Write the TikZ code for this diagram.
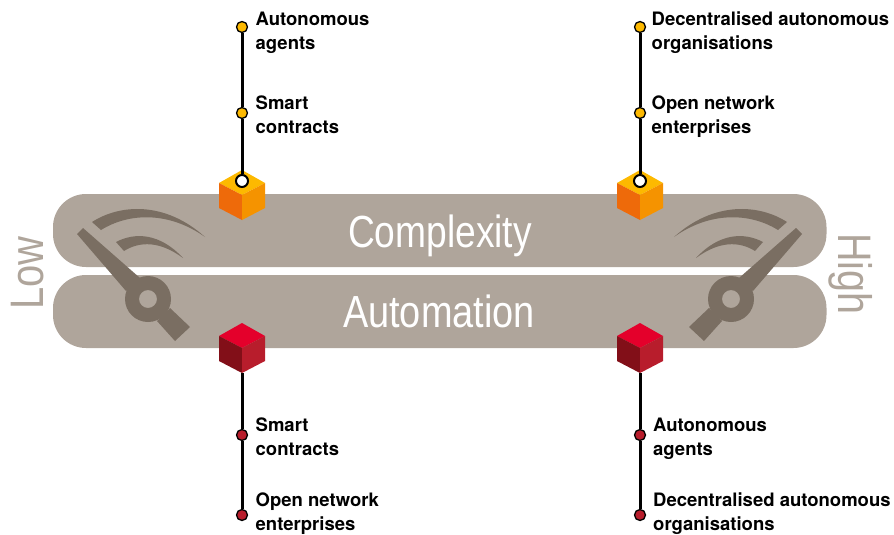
\documentclass[tikz,border=0pt]{standalone}
\usepackage{fontspec}
\usepackage{graphicx}
\setmainfont{TeX Gyre Heros}
\newfontfamily\thinfont{Liberation Sans}
\definecolor{barc}{HTML}{AFA59B}
\definecolor{gaugec}{HTML}{7A6E62}
\definecolor{ytop}{HTML}{FDB900}
\definecolor{yleft}{HTML}{EE6A0A}
\definecolor{yright}{HTML}{F59300}
\definecolor{rtop}{HTML}{E4002B}
\definecolor{rleft}{HTML}{820F18}
\definecolor{rright}{HTML}{B81D2C}
\tikzset{
  band/.style={fill=barc,draw=none,rounded corners=33pt},
  stem/.style={draw=black,line width=3pt},
  ydot/.style={circle,draw=black,line width=1.3pt,fill=ytop,minimum size=11pt,inner sep=0pt},
  rdot/.style={circle,draw=black,line width=1.3pt,fill=rright,minimum size=11pt,inner sep=0pt},
  wdot/.style={circle,draw=black,line width=2pt,fill=white,minimum size=12pt,inner sep=0pt},
  lbl/.style={anchor=north west,align=left,inner sep=0pt,font=\fontsize{18.5}{24}\selectfont\bfseries,text=black},
  bigt/.style={text=white,inner sep=0pt,anchor=base,font=\fontsize{45}{45}\selectfont\thinfont},
  sidet/.style={text=barc,inner sep=0pt,anchor=base,font=\fontsize{47}{47}\selectfont\thinfont},
}
\newcommand{\drawcube}[7]{% x, ytop, top, left, right colours
  \fill[#4] (#1,#2) -- (#1+23,#2+13) -- (#1,#2+25) -- (#1-23,#2+13) -- cycle;
  \fill[#5] (#1-23,#2+13) -- (#1,#2+25) -- (#1,#2+50) -- (#1-23,#2+38) -- cycle;
  \fill[#6] (#1+23,#2+13) -- (#1,#2+25) -- (#1,#2+50) -- (#1+23,#2+38) -- cycle;
}
\newcommand{\drawgauge}{%
  \fill[gaugec,even odd rule] (148,299) circle (23) (148,299) circle (9);
  \fill[gaugec] (83,228) -- (77,234) -- (126,291) -- (140,278) -- cycle;
  \fill[gaugec] (170,308) -- (190,327) -- (175,341) -- (157,321) -- cycle;
  \fill[gaugec] (92,222) .. controls (120,204) and (165,201) .. (205,237)
     .. controls (170,212) and (130,212) .. (101,230) -- cycle;
  \fill[gaugec] (116,242) .. controls (135,232) and (160,233) .. (183,258)
     .. controls (160,241) and (140,241) .. (124,251) -- cycle;
}
\begin{document}
\begin{tikzpicture}[x=1pt,y=-1pt]
\useasboundingbox (0,0) rectangle (894,535);
% bands
\fill[band] (53,194) rectangle (826.5,267);
\fill[band] (53,275) rectangle (826.5,348);
% gauges
\drawgauge
\begin{scope}[xshift=879pt,xscale=-1]
\drawgauge
\end{scope}
% big text
\node[bigt] (cpx) at (440,247) {\scalebox{0.826}[1]{Complexity}};
\node[bigt] (aut) at (439,327) {\scalebox{0.843}[1]{Automation}};
\node[sidet,rotate=90] (low) at (43,273) {\scalebox{0.85}[1]{Low}};
\node[sidet,rotate=-90] (high) at (838,274) {\scalebox{0.84}[1]{High}};
% cubes
\drawcube{242}{170}{}{ytop}{yleft}{yright}{}
\drawcube{640}{170}{}{ytop}{yleft}{yright}{}
\drawcube{242}{323}{}{rtop}{rleft}{rright}{}
\drawcube{640}{323}{}{rtop}{rleft}{rright}{}
\coordinate (cbl) at (242,373);
\coordinate (cbr) at (640,373);
% nodes
\node[ydot] (a1) at (242,27) {};
\node[ydot] (a2) at (242,113) {};
\node[wdot] (a3) at (242,181) {};
\node[ydot] (b1) at (640,27) {};
\node[ydot] (b2) at (640,113) {};
\node[wdot] (b3) at (640,181) {};
\node[rdot] (c1) at (242,435) {};
\node[rdot] (c2) at (242,515) {};
\node[rdot] (d1) at (640,435) {};
\node[rdot] (d2) at (640,515) {};
% connectors
\draw[stem] (a1) -- (a2);
\draw[stem] (a2) -- (a3);
\draw[stem] (b1) -- (b2);
\draw[stem] (b2) -- (b3);
\draw[stem] (cbl) -- (c1);
\draw[stem] (c1) -- (c2);
\draw[stem] (cbr) -- (d1);
\draw[stem] (d1) -- (d2);
% labels
\node[lbl] (la1) at (255.5,11.5) {Autonomous\\agents};
\node[lbl] (la2) at (255.5,95.5) {Smart\\contracts};
\node[lbl] (lb1) at (651.5,11.5) {Decentralised autonomous\\organisations};
\node[lbl] (lb2) at (651.5,95.5) {Open network\\enterprises};
\node[lbl] (lc1) at (255.5,417.5) {Smart\\contracts};
\node[lbl] (lc2) at (255.5,492.5) {Open network\\enterprises};
\node[lbl] (ld1) at (653,417.5) {Autonomous\\agents};
\node[lbl] (ld2) at (653,492.5) {Decentralised autonomous\\organisations};
\end{tikzpicture}
\end{document}
